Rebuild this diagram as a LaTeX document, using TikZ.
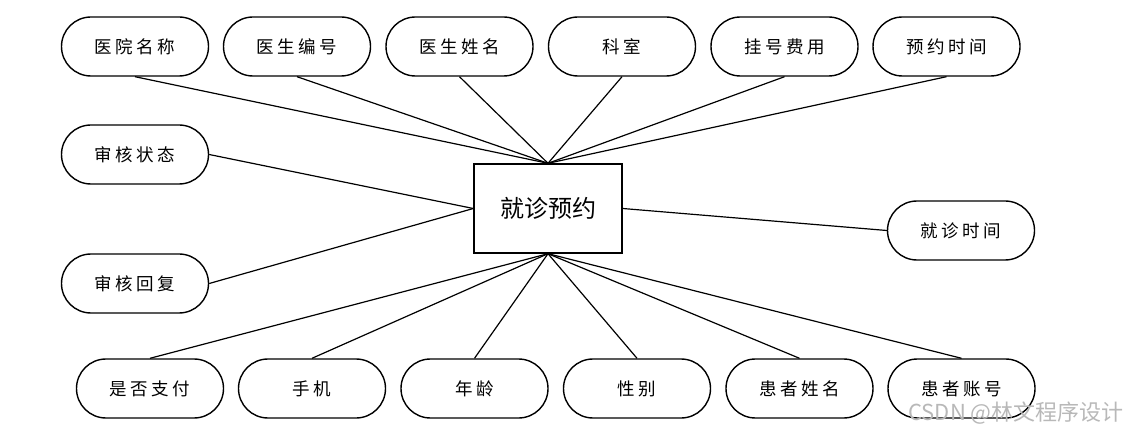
\documentclass[tikz,border=0pt]{standalone}
\usepackage{fontspec}
\newfontfamily\cjk{Noto Sans CJK SC}
\newfontfamily\cjkls[LetterSpace=20]{Noto Sans CJK SC}
\begin{document}
\begin{tikzpicture}[x=1pt,y=-1pt,
  attr/.style={draw,line width=1.4pt,rectangle,rounded corners=29.5pt,minimum width=147pt,minimum height=59pt,inner sep=0pt,font=\cjkls\fontsize{17.5}{17.5}\selectfont},
  ent/.style={draw,line width=1.4pt,rectangle,minimum width=148pt,minimum height=89pt,inner sep=0pt,font=\cjk\fontsize{24}{24}\selectfont},
  link/.style={line width=1.2pt}]
\useasboundingbox (0,0) rectangle (1129,435);
\node[ent] (c) at (548,208.5) {就诊预约};
% top row
\node[attr] (t1) at (135,46.5) {医院名称};
\node[attr] (t2) at (297,46.5) {医生编号};
\node[attr] (t3) at (459.5,46.5) {医生姓名};
\node[attr] (t4) at (622,46.5) {科室};
\node[attr] (t5) at (784.5,46.5) {挂号费用};
\node[attr] (t6) at (946.5,46.5) {预约时间};
% left
\node[attr] (l1) at (135,154.5) {审核状态};
\node[attr] (l2) at (135,283.5) {审核回复};
% right
\node[attr] (r1) at (961,230.5) {就诊时间};
% bottom row
\node[attr] (b1) at (150,388.5) {是否支付};
\node[attr] (b2) at (312,388.5) {手机};
\node[attr] (b3) at (474.5,388.5) {年龄};
\node[attr] (b4) at (637,388.5) {性别};
\node[attr] (b5) at (799.5,388.5) {患者姓名};
\node[attr] (b6) at (961.5,388.5) {患者账号};
% connectors
\foreach \n in {t1,t2,t3,t4,t5,t6} \draw[link] (\n.south) -- (c.north);
\foreach \n in {b1,b2,b3,b4,b5,b6} \draw[link] (c.south) -- (\n.north);
\draw[link] (l1.east) -- (c.west);
\draw[link] (l2.east) -- (c.west);
\draw[link] (c.east) -- (r1.west);
% watermark
\node[text=black!28,font=\cjk\fontsize{22}{22}\selectfont,inner sep=0pt] (wm) at (1016,413) {CSDN @林文程序设计};
\end{tikzpicture}
\end{document}
